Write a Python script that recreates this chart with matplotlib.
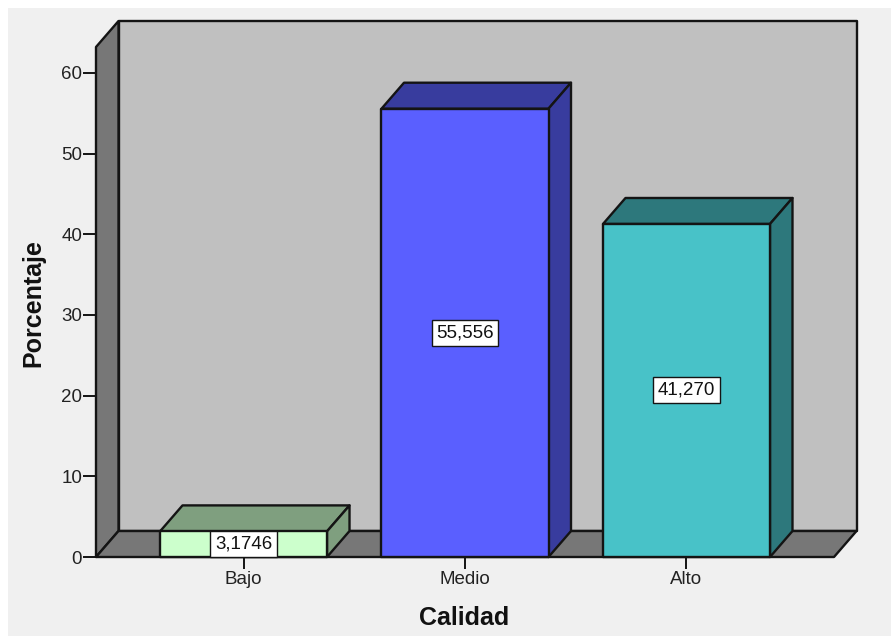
import matplotlib.pyplot as plt
from matplotlib.patches import Polygon, Rectangle
from matplotlib.ticker import MultipleLocator

plt.rcParams['font.family'] = ['Liberation Sans', 'DejaVu Sans']

# Data
categories = ['Bajo', 'Medio', 'Alto']
values = [3.1746, 55.556, 41.270]
value_labels = ['3,1746', '55,556', '41,270']

# Front, side and top colours for each bar
front_colors = ['#CCFFCC', '#5A5FFF', '#48C2C8']
side_colors = ['#7F9F7F', '#383C9E', '#2D787C']
top_colors = ['#7F9F7F', '#383C9E', '#2D787C']

EDGE = '#141414'
WALL = '#C0C0C0'
FLOOR = '#777777'

W, H = 891, 636
fig = plt.figure(figsize=(W / 100, H / 100), dpi=100, facecolor='white')

# Grey panel, leaves a thin white strip at the top and on the left
fig.add_artist(Rectangle((8 / W, 0), 1 - 8 / W, 1 - 8 / H, transform=fig.transFigure,
                         facecolor='#F0F0F0', edgecolor='none', zorder=-1))

# Axes covers the front plane of the box
left, right, top, bottom = 96, 834, 47, 557
ax = fig.add_axes([left / W, 1 - bottom / H, (right - left) / W, (bottom - top) / H])
ax.patch.set_visible(False)
xmin, xmax = -0.666, 2.666
ymin, ymax = 0, 63.2
ax.set_xlim(xmin, xmax)
ax.set_ylim(ymin, ymax)

# Offset of the back plane, in data units
dx = 0.1016
dy = 3.22
bar_width = 0.754


def poly(pts, color, z=1):
    ax.add_patch(Polygon(pts, closed=True, facecolor=color, edgecolor=EDGE,
                         linewidth=1.7, joinstyle='round', clip_on=False, zorder=z))


# Back wall, side wall, floor
poly([(xmin + dx, dy), (xmax + dx, dy), (xmax + dx, ymax + dy), (xmin + dx, ymax + dy)], WALL)
poly([(xmin, 0), (xmin + dx, dy), (xmin + dx, ymax + dy), (xmin, ymax)], FLOOR)
poly([(xmin, 0), (xmax, 0), (xmax + dx, dy), (xmin + dx, dy)], FLOOR)

# Bars
for i, val in enumerate(values):
    x0 = i - bar_width / 2
    x1 = i + bar_width / 2
    poly([(x0, val), (x1, val), (x1 + dx, val + dy), (x0 + dx, val + dy)], top_colors[i], 2)
    poly([(x1, 0), (x1 + dx, dy), (x1 + dx, val + dy), (x1, val)], side_colors[i], 2)
    poly([(x0, 0), (x1, 0), (x1, val), (x0, val)], front_colors[i], 3)
    ax.text(i, val / 2, value_labels[i], ha='center', va='center', fontsize=13.5,
            color='#111111', zorder=5,
            bbox=dict(facecolor='white', edgecolor=EDGE, linewidth=1.0,
                      boxstyle='square,pad=0.24'))

# Axis settings
for s in ax.spines.values():
    s.set_visible(False)
ax.yaxis.set_major_locator(MultipleLocator(10))
ax.set_yticks(range(0, 61, 10))
ax.set_xticks(range(len(categories)))
ax.set_xticklabels(categories)
ax.tick_params(axis='y', length=9.5, width=1.4, color=EDGE, labelsize=13.5,
               labelcolor='#222222', pad=0.5)
ax.tick_params(axis='x', length=8.5, width=1.4, color=EDGE, labelsize=13.5,
               labelcolor='#222222', pad=1.5)

fig.text(33 / W, 1 - 303 / H, 'Porcentaje', rotation=90, ha='center', va='center',
         fontsize=18, fontweight='bold', color='#111111')
fig.text(464.5 / W, 1 - 618 / H, 'Calidad', ha='center', va='center',
         fontsize=18, fontweight='bold', color='#111111')

fig.savefig('out.png', dpi=100)
plt.close()
